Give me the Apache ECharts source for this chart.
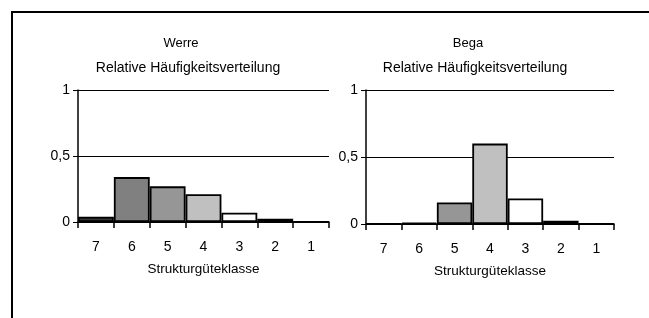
<!DOCTYPE html>
<html>
<head>
<meta charset="utf-8">
<script src="https://cdn.jsdelivr.net/npm/echarts@6/dist/echarts.min.js"></script>
<style>
    html, body { margin: 0; padding: 0; background: #fff; }
    #chart { width: 649px; height: 318px; }
</style>
</head>
<body>
<div id="chart"></div>
<script>
// Strukturgüteklassen (7 = schlecht ... 1 = sehr gut)
const classes = ["7", "6", "5", "4", "3", "2", "1"];
const werre = [0.04, 0.34, 0.27, 0.21, 0.07, 0.025, 0];
const bega = [0, 0.01, 0.16, 0.6, 0.19, 0.025, 0];
const classColors = ["#333333", "#808080", "#969696", "#c0c0c0", "#ffffff", "#ffffff", "#ffffff"];
const yTicks = [0, 0.5, 1];

const font = "Liberation Sans, Arial, sans-serif";

function xAxisFor(idx) {
    return {
        type: "category",
        gridIndex: idx,
        data: classes,
        boundaryGap: true,
        axisLine: { lineStyle: { color: "#000", width: 1.5 } },
        axisTick: { show: true, interval: 0, length: 6, lineStyle: { color: "#000", width: 1.5 } },
        axisLabel: { color: "#000", fontSize: 14, fontFamily: font, margin: 18, interval: 0 },
        name: "Strukturgüteklasse",
        nameLocation: "middle",
        nameGap: 40,
        nameTextStyle: { color: "#000", fontSize: 13.5, fontFamily: font },
    };
}

function yAxisFor(idx) {
    return {
        type: "value",
        gridIndex: idx,
        min: yTicks[0],
        max: yTicks[yTicks.length - 1],
        interval: 0.5,
        axisLine: { show: true, lineStyle: { color: "#000", width: 1.5 } },
        axisTick: { show: true, length: 5, lineStyle: { color: "#000", width: 1 } },
        axisLabel: {
            color: "#000",
            fontSize: 14,
            fontFamily: font,
            margin: 8,
            formatter: (v) => String(v).replace(".", ","),
        },
        splitLine: { show: true, lineStyle: { color: "#000", width: 1.2 } },
    };
}

function barSeries(idx, values) {
    return {
        type: "bar",
        xAxisIndex: idx,
        yAxisIndex: idx,
        barCategoryGap: "0%",
        data: values.map((v, i) => ({
            value: v,
            itemStyle: { color: classColors[i] },
        })),
        itemStyle: { borderColor: "#000", borderWidth: 1.8 },
    };
}

const chart = echarts.init(document.getElementById("chart"), null, { renderer: "canvas" });
chart.setOption({
    backgroundColor: "#fff",
    animation: false,
    title: [
        { text: "Werre", left: 176, top: 32, textAlign: "center",
          textStyle: { fontSize: 13, fontWeight: "normal", color: "#000", fontFamily: font } },
        { text: "Relative Häufigkeitsverteilung", left: 183, top: 56, textAlign: "center",
          textStyle: { fontSize: 14, fontWeight: "normal", color: "#000", fontFamily: font } },
        { text: "Bega", left: 463, top: 32, textAlign: "center",
          textStyle: { fontSize: 13, fontWeight: "normal", color: "#000", fontFamily: font } },
        { text: "Relative Häufigkeitsverteilung", left: 470, top: 56, textAlign: "center",
          textStyle: { fontSize: 14, fontWeight: "normal", color: "#000", fontFamily: font } },
    ],
    graphic: [
        {
            type: "rect",
            shape: { x: 12, y: 12, width: 700, height: 400 },
            style: { fill: "none", stroke: "#000", lineWidth: 2 },
            z: 100,
        },
    ],
    grid: [
        { left: 78, right: 320, top: 90, bottom: 96 },
        { left: 366, right: 35, top: 90, bottom: 94 },
    ],
    xAxis: [xAxisFor(0), xAxisFor(1)],
    yAxis: [yAxisFor(0), yAxisFor(1)],
    series: [barSeries(0, werre), barSeries(1, bega)],
});
</script>
</body>
</html>
